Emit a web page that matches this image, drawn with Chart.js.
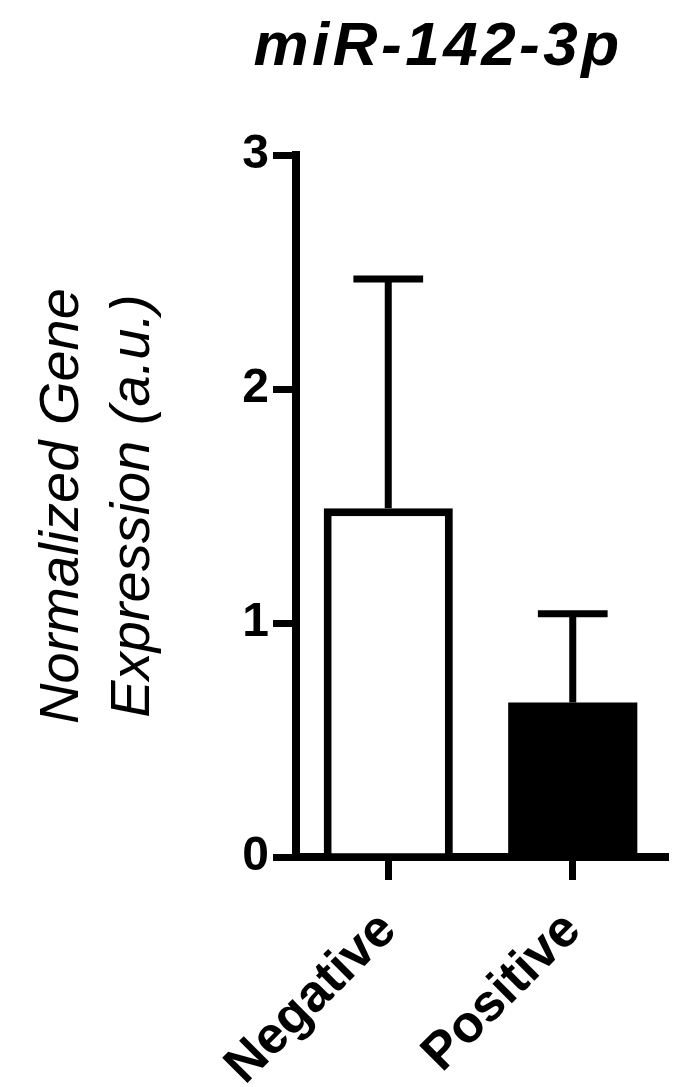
<!DOCTYPE html>
<html>
<head>
<meta charset="utf-8">
<script src="https://cdn.jsdelivr.net/npm/chart.js@4.4.1/dist/chart.umd.min.js"></script>
<style>
  html, body { margin: 0; padding: 0; background: #fff; }
  #wrap { width: 680px; height: 1087px; }
</style>
</head>
<body>
<div id="wrap"><canvas id="exprChart"></canvas></div>
<script>
// values
const categories = ["Negative", "Positive"];
const meanValues = [1.49, 0.66];
const errorValues = [0.98, 0.38]; // upper error only
const barColors = ["#ffffff", "#000000"];
const yTicks = [0, 1, 2, 3];
const chartTitle = "miR-142-3p";
const yTitle = ["Normalized Gene", "Expression (a.u.)"];

const FONT = "'Liberation Sans', Arial, sans-serif";

// one-sided error bars on top of each bar
const errorBarPlugin = {
  id: "errorBars",
  afterDatasetsDraw(chart) {
    const { ctx } = chart;
    const y = chart.scales.y;
    const meta = chart.getDatasetMeta(0);
    ctx.save();
    ctx.strokeStyle = "#000";
    ctx.lineWidth = 7;
    meta.data.forEach((bar, i) => {
      const top = y.getPixelForValue(meanValues[i] + errorValues[i]);
      const half = bar.width * 0.27;
      ctx.beginPath();
      ctx.moveTo(bar.x, bar.y);
      ctx.lineTo(bar.x, top);
      ctx.moveTo(bar.x - half, top);
      ctx.lineTo(bar.x + half, top);
      ctx.stroke();
    });
    ctx.restore();
  }
};

// title sits off-centre in the original, so draw it by hand
const titlePlugin = {
  id: "plotTitle",
  afterDraw(chart) {
    const { ctx, chartArea } = chart;
    ctx.save();
    ctx.font = "italic bold 62px " + FONT;
    ctx.letterSpacing = "3.5px";
    ctx.fillStyle = "#000";
    ctx.textAlign = "center";
    ctx.textBaseline = "alphabetic";
    ctx.fillText(chartTitle, chartArea.left + 142, 65);
    ctx.restore();
  }
};

const ctx = document.getElementById("exprChart").getContext("2d");

new Chart(ctx, {
  type: "bar",
  data: {
    labels: categories,
    datasets: [
      {
        data: meanValues,
        backgroundColor: barColors,
        borderColor: "#000",
        borderWidth: [8, 0],
        barPercentage: 0.7,
        categoryPercentage: 1.0,
      },
    ],
  },
  options: {
    responsive: true,
    maintainAspectRatio: false,
    animation: false,
    layout: {
      padding: { left: 0, right: 15, top: 155, bottom: 0 },
    },
    plugins: {
      legend: { display: false },
      tooltip: { enabled: false },
      title: { display: false },
    },
    scales: {
      x: {
        type: "category",
        offset: true,
        grid: {
          offset: false,
          drawOnChartArea: false,
          tickLength: 23,
          lineWidth: 7,
          color: "#000",
        },
        border: { color: "#000", width: 8 },
        ticks: {
          color: "#000",
          font: { family: FONT, size: 52, weight: "bold" },
          minRotation: 45,
          maxRotation: 45,
          autoSkip: false,
          padding: 20,
        },
        afterFit(scale) {
          scale.height = 230;
        },
      },
      y: {
        min: 0,
        max: 3,
        afterBuildTicks(scale) {
          scale.ticks = yTicks.map((v) => ({ value: v }));
        },
        grid: {
          drawOnChartArea: false,
          tickLength: 23,
          lineWidth: 7,
          color: "#000",
        },
        border: { color: "#000", width: 8 },
        ticks: {
          color: "#000",
          font: { family: FONT, size: 48, weight: "bold" },
          padding: 4,
        },
        title: {
          display: true,
          text: yTitle,
          color: "#000",
          font: { family: FONT, size: 56, style: "italic", weight: "normal", lineHeight: 1.27 },
          padding: { top: 27, bottom: 0 },
        },
        afterFit(scale) {
          scale.width = 296;
        },
      },
    },
  },
  plugins: [errorBarPlugin, titlePlugin],
});
</script>
</body>
</html>
